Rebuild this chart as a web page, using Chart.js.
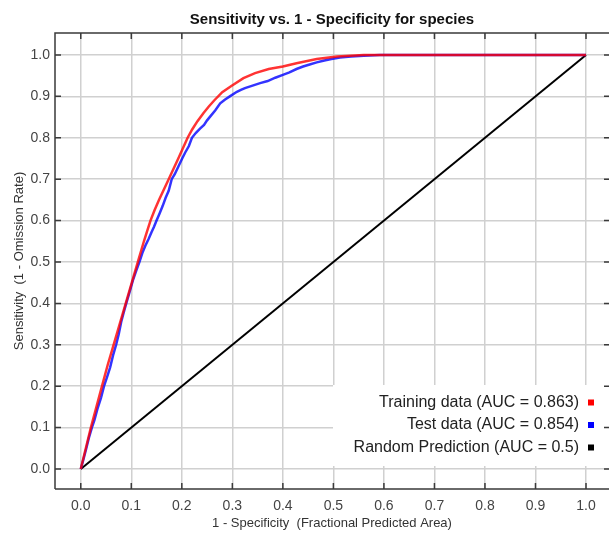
<!DOCTYPE html>
<html>
<head>
<meta charset="utf-8">
<title>ROC species</title>
<script src="https://cdn.jsdelivr.net/npm/chart.js@4.4.1/dist/chart.umd.min.js"></script>
<style>
  html, body { margin: 0; padding: 0; background: #fff; }
  #wrap { width: 609px; height: 534px; }
</style>
</head>
<body>
<div id="wrap"><canvas id="roc" width="609" height="534"></canvas></div>
<script>
const FONT = '"Liberation Sans", Arial, sans-serif';

// tick labels
const xTicks = [0, 0.1, 0.2, 0.3, 0.4, 0.5, 0.6, 0.7, 0.8, 0.9, 1.0];
const yTicks = [0, 0.1, 0.2, 0.3, 0.4, 0.5, 0.6, 0.7, 0.8, 0.9, 1.0];

// training curve
const trainX = [0, 0.010, 0.020, 0.031, 0.042, 0.053, 0.065, 0.077, 0.089, 0.101, 0.113, 0.125, 0.1315,
  0.138, 0.146, 0.155, 0.174, 0.193, 0.2115, 0.2205, 0.231, 0.243, 0.253, 0.264, 0.280, 0.298, 0.322,
  0.345, 0.372, 0.400, 0.427, 0.467, 0.507, 0.560, 1.0];
const trainY = [0, 0.05, 0.10, 0.15, 0.20, 0.25, 0.30, 0.35, 0.40, 0.45, 0.50, 0.55, 0.575,
  0.60, 0.625, 0.65, 0.70, 0.75, 0.80, 0.82, 0.84, 0.86, 0.875, 0.89, 0.91, 0.925, 0.944,
  0.956, 0.966, 0.972, 0.98, 0.99, 0.996, 1.0, 1.0];

// test curve
const testX = [0, 0.005, 0.011, 0.016, 0.022, 0.027, 0.033, 0.040, 0.046, 0.052, 0.058, 0.064, 0.070, 0.075,
  0.080, 0.085, 0.090, 0.096, 0.103, 0.110, 0.116, 0.122, 0.128, 0.134, 0.140, 0.145, 0.150, 0.156, 0.162,
  0.168, 0.174, 0.180, 0.186, 0.193, 0.200, 0.207, 0.214, 0.220, 0.228, 0.236, 0.244, 0.250, 0.256, 0.266,
  0.276, 0.285, 0.295, 0.309, 0.318, 0.325, 0.340, 0.355, 0.370, 0.385, 0.400, 0.413, 0.427, 0.440, 0.453,
  0.467, 0.480, 0.496, 0.513, 0.535, 0.560, 0.592, 1.0];
const testY = [0, 0.022, 0.05, 0.075, 0.10, 0.118, 0.145, 0.172, 0.20, 0.222, 0.245, 0.275, 0.30, 0.325,
  0.355, 0.378, 0.40, 0.425, 0.455, 0.48, 0.50, 0.522, 0.54, 0.555, 0.572, 0.585, 0.60, 0.617, 0.635,
  0.655, 0.672, 0.70, 0.712, 0.73, 0.748, 0.765, 0.78, 0.80, 0.812, 0.822, 0.831, 0.842, 0.851, 0.866,
  0.883, 0.892, 0.90, 0.911, 0.916, 0.92, 0.926, 0.932, 0.937, 0.945, 0.952, 0.958, 0.966, 0.972, 0.977,
  0.982, 0.986, 0.99, 0.994, 0.996, 0.998, 1.0, 1.0];

// random prediction
const randX = [0, 1];
const randY = [0, 1];

const seriesLabels = ['Training data (AUC = 0.863)', 'Test data (AUC = 0.854)', 'Random Prediction (AUC = 0.5)'];
const lineColors = ['rgba(255, 0, 0, 0.8)', 'rgba(0, 0, 255, 0.8)', '#000000'];
const keyColors = ['#ff0000', '#0000ff', '#000000'];

function toPoints(xs, ys) {
    return xs.map((x, i) => ({ x: x, y: ys[i] }));
}

// legend box inside the plot + the dark frame with inward ticks
const frameAndKey = {
    id: 'frameAndKey',
    afterDatasetsDraw(chart) {
        const ctx = chart.ctx;
        const a = chart.chartArea;
        const sx = chart.scales.x;
        const sy = chart.scales.y;
        ctx.save();

        const boxLeft = a.right - 276;
        const boxTop = a.bottom - 104;
        const boxBottom = a.bottom - 23;
        ctx.fillStyle = '#ffffff';
        ctx.fillRect(boxLeft, boxTop, a.right - boxLeft, boxBottom - boxTop);

        ctx.font = '16px ' + FONT;
        ctx.textAlign = 'right';
        ctx.textBaseline = 'middle';
        seriesLabels.forEach((label, i) => {
            const y = boxTop + 17.5 + i * 22.5;
            ctx.fillStyle = '#222';
            ctx.fillText(label, a.right - 30, y);
            ctx.fillStyle = keyColors[i];
            ctx.fillRect(a.right - 21, y - 3, 6, 6);
        });

        // frame
        ctx.strokeStyle = '#3a3a3a';
        ctx.lineWidth = 1.5;
        ctx.beginPath();
        ctx.moveTo(a.left, a.bottom);
        ctx.lineTo(a.left, a.top);
        ctx.lineTo(a.right, a.top);
        ctx.moveTo(a.left, a.bottom);
        ctx.lineTo(a.right, a.bottom);
        // tick marks pointing inward
        xTicks.forEach(v => {
            const px = sx.getPixelForValue(v);
            ctx.moveTo(px, a.top);
            ctx.lineTo(px, a.top + 6);
            ctx.moveTo(px, a.bottom);
            ctx.lineTo(px, a.bottom - 6);
        });
        yTicks.forEach(v => {
            const py = sy.getPixelForValue(v);
            ctx.moveTo(a.left, py);
            ctx.lineTo(a.left + 6, py);
            ctx.moveTo(a.right, py);
            ctx.lineTo(a.right - 5, py);
        });
        ctx.stroke();
        ctx.restore();
    }
};

new Chart(document.getElementById('roc'), {
    type: 'scatter',
    data: {
        datasets: [
            {
                label: seriesLabels[0],
                data: toPoints(trainX, trainY),
                showLine: true,
                borderColor: lineColors[0],
                borderWidth: 2.5,
                pointRadius: 0,
                tension: 0
            },
            {
                label: seriesLabels[1],
                data: toPoints(testX, testY),
                showLine: true,
                borderColor: lineColors[1],
                borderWidth: 2.5,
                pointRadius: 0,
                tension: 0
            },
            {
                label: seriesLabels[2],
                data: toPoints(randX, randY),
                showLine: true,
                borderColor: lineColors[2],
                borderWidth: 2,
                pointRadius: 0,
                tension: 0
            }
        ]
    },
    options: {
        responsive: false,
        animation: false,
        devicePixelRatio: 1,
        layout: { padding: 0 },
        plugins: {
            legend: { display: false },
            tooltip: { enabled: false },
            title: {
                display: true,
                text: 'Sensitivity vs. 1 - Specificity for species',
                fullSize: false,
                color: '#111',
                font: { family: FONT, size: 15, weight: 'bold' },
                padding: { top: 11, bottom: 4 }
            }
        },
        scales: {
            x: {
                type: 'linear',
                min: -0.051,
                max: 1.0455,
                afterBuildTicks: s => { s.ticks = xTicks.map(v => ({ value: v })); },
                afterFit: s => { s.height = 45; },
                grid: { color: '#d0d0d0', lineWidth: 1.5, drawTicks: false },
                border: { display: false },
                ticks: {
                    padding: 9,
                    color: '#444',
                    font: { family: FONT, size: 14 },
                    callback: v => Number(v).toFixed(1)
                },
                title: {
                    display: true,
                    text: '1 - Specificity  (Fractional Predicted Area)',
                    color: '#333',
                    font: { family: FONT, size: 13 },
                    padding: { top: 0, bottom: 3 }
                }
            },
            y: {
                type: 'linear',
                min: -0.0483,
                max: 1.053,
                afterBuildTicks: s => { s.ticks = yTicks.map(v => ({ value: v })); },
                afterFit: s => { s.width = 55; },
                grid: { color: '#d0d0d0', lineWidth: 1.5, drawTicks: false },
                border: { display: false },
                ticks: {
                    padding: 5,
                    color: '#444',
                    font: { family: FONT, size: 14 },
                    callback: v => Number(v).toFixed(1)
                },
                title: {
                    display: true,
                    text: 'Sensitivity  (1 - Omission Rate)',
                    color: '#333',
                    font: { family: FONT, size: 13 },
                    padding: { top: 12, bottom: 0 }
                }
            }
        }
    },
    plugins: [frameAndKey]
});
</script>
</body>
</html>
